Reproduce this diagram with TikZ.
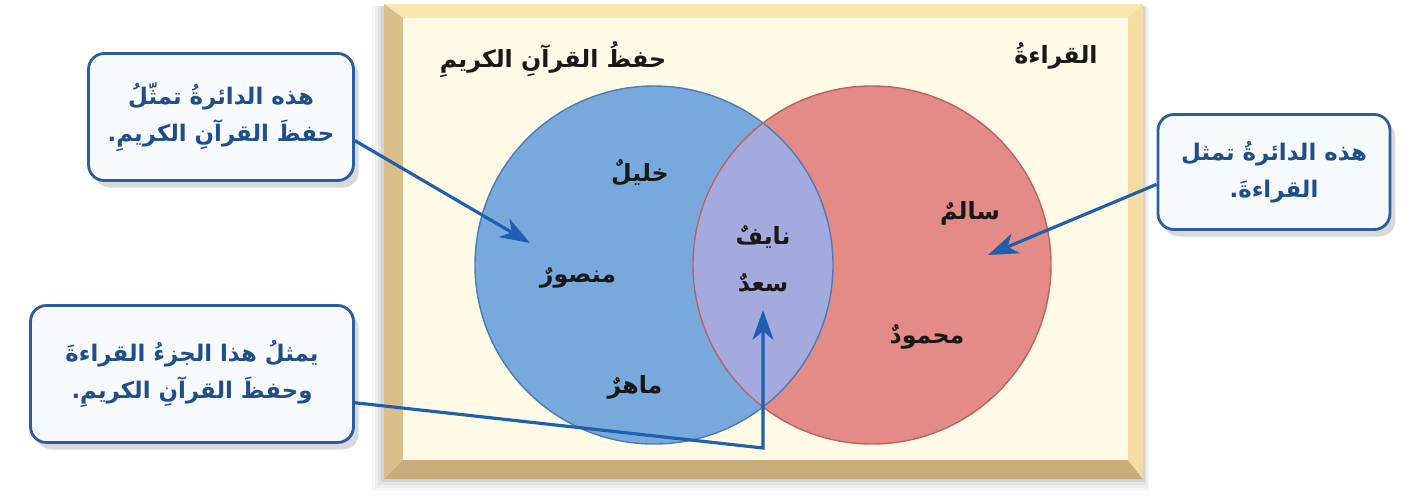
\documentclass[tikz,border=0pt]{standalone}
\usepackage{fontspec}
\usepackage{tikz}
\usetikzlibrary{shapes,arrows.meta,positioning,shadows}
\newfontfamily\arabicfont[Script=Arabic]{DejaVu Sans}
\TeXXeTstate=1
\definecolor{boxblue}{HTML}{2C5E9E}
\definecolor{boxtext}{HTML}{1F4E8C}
\definecolor{boxfill}{HTML}{F7FAFD}
\definecolor{arrowblue}{HTML}{1F5FB0}
\definecolor{cream}{HTML}{FFFAE6}
\definecolor{bevtop}{HTML}{FBE6B3}
\definecolor{bevleft}{HTML}{D8BF8C}
\definecolor{bevbottom}{HTML}{C8AD7C}
\definecolor{bevright}{HTML}{F6DBA3}
\definecolor{memofill}{HTML}{78A9DC}
\definecolor{memoline}{HTML}{4A7DB8}
\definecolor{readfill}{HTML}{E48A87}
\definecolor{readline}{HTML}{B86464}
\definecolor{bothfill}{HTML}{A4AADD}
\newcommand{\rtl}[1]{\beginR#1\endR}

\begin{document}
\begin{tikzpicture}
  [
    x=0.02cm, y=-0.02cm,
    Callout/.style={draw=boxblue, line width=1.6pt, fill=boxfill, rounded corners=9pt, align=center,
      text=boxtext, font=\arabicfont\bfseries\fontsize{13pt}{21pt}\selectfont,
      drop shadow={shadow xshift=3pt, shadow yshift=-4pt, opacity=.3}},
    Name/.style={font=\arabicfont\bfseries\fontsize{13.5pt}{15pt}\selectfont, text=black!90},
    Title/.style={font=\arabicfont\bfseries\fontsize{13.5pt}{15pt}\selectfont, text=black!90},
    Pointer/.style={draw=arrowblue, line width=1.8pt, -{Stealth[length=17pt, width=12pt, inset=5pt]}},
    SetLine/.style={line width=0.8pt}
  ]
  \useasboundingbox (0,0) rectangle (1403,498);
  % Frame
  \foreach \d/\o in {12/.03, 9/.04, 6/.05, 3/.06}
    \fill[black, opacity=\o] (384-\d,6) rectangle (1143+\d/2,479+\d);
  \fill[bevtop] (384,4) -- (1143,4) -- (1128,18) -- (403,18) -- cycle;
  \fill[bevleft] (384,4) -- (403,18) -- (403,460) -- (384,479) -- cycle;
  \fill[bevbottom] (384,479) -- (1143,479) -- (1128,460) -- (403,460) -- cycle;
  \fill[bevright] (1143,4) -- (1143,479) -- (1128,460) -- (1128,18) -- cycle;
  \fill[cream] (403,18) rectangle (1128,460);
  % Sets
  \fill[memofill] (654,265) circle [radius=179];
  \fill[readfill] (872,265) circle [radius=179];
  \begin{scope}
    \clip (654,265) circle [radius=179];
    \fill[bothfill] (872,265) circle [radius=179];
  \end{scope}
  \draw[SetLine, draw=memoline] (654,265) circle [radius=179];
  \draw[SetLine, draw=readline] (872,265) circle [radius=179];
  % Titles
  \node[Title] (memotitle) at (553,60) {\rtl{حفظُ القرآنِ الكريمِ}};
  \node[Title] (readtitle) at (1056,56) {\rtl{القراءةُ}};
  % Names
  \node[Name] (khalil) at (640,173) {\rtl{خليلٌ}};
  \node[Name] (mansour) at (578,278) {\rtl{منصورٌ}};
  \node[Name] (maher) at (635,387) {\rtl{ماهرٌ}};
  \node[Name] (nayef) at (763,237) {\rtl{نايفٌ}};
  \node[Name] (saad) at (763,283) {\rtl{سعدٌ}};
  \node[Name] (salem) at (970,213) {\rtl{سالمٌ}};
  \node[Name] (mahmoud) at (927,337) {\rtl{محمودٌ}};
  % Callouts
  \node[Callout, minimum width=5.3cm, minimum height=2.54cm] (memobox) at (221,117)
    {\rtl{هذه الدائرةُ تمثّلُ}\\\rtl{حفظَ القرآنِ الكريمِ.}};
  \node[Callout, minimum width=4.64cm, minimum height=2.3cm] (readbox) at (1274,172)
    {\rtl{هذه الدائرةُ تمثل}\\\rtl{القراءةَ.}};
  \node[Callout, minimum width=6.46cm, minimum height=2.74cm] (bothbox) at (192,374)
    {\rtl{يمثلُ هذا الجزءُ القراءةَ}\\\rtl{وحفظَ القرآنِ الكريمِ.}};
  \coordinate (memotip) at (530,243);
  \coordinate (readtip) at (988,255);
  \coordinate (bothbend) at (763,448);
  \coordinate (bothtip) at (763,310);
  % Lines
  \path[Pointer] (memobox.-10) -- (memotip);
  \path[Pointer] (readbox.186) -- (readtip);
  \path[Pointer, line join=miter] (bothbox.-10) -- (bothbend) -- (bothtip);
\end{tikzpicture}
\end{document}
